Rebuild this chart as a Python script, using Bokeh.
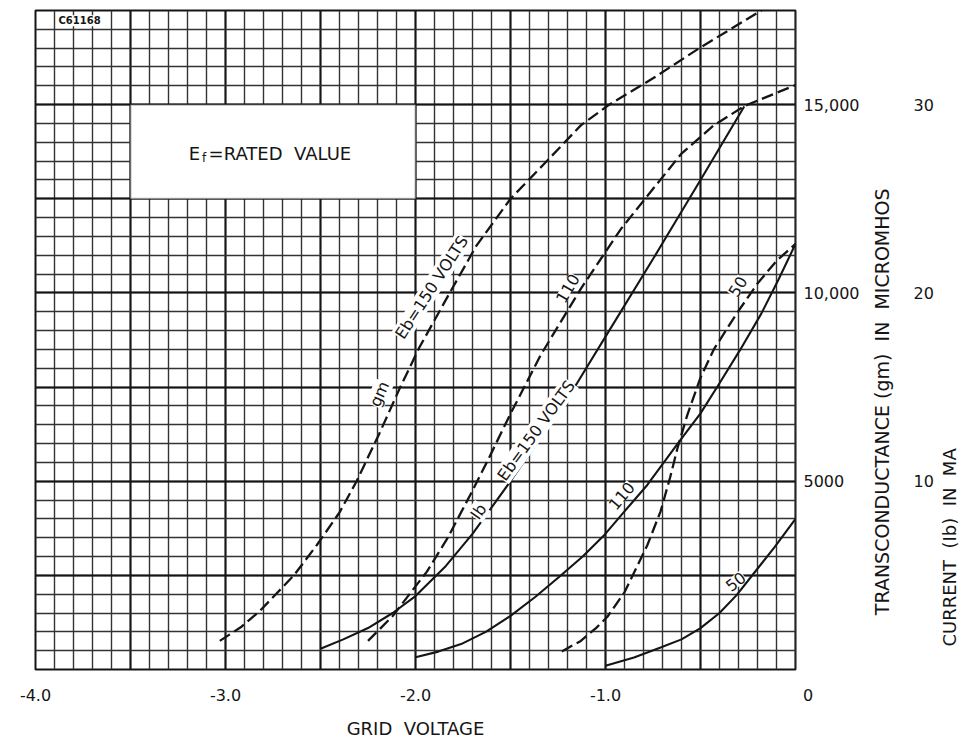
import numpy as np
from bokeh.plotting import figure
from bokeh.models import Range1d, LinearAxis, FixedTicker, BoxAnnotation, Label, NumeralTickFormatter
from bokeh.embed import file_html
from bokeh.resources import INLINE

# ---- data (grid voltage in V; gm in micromhos; Ib in mA) ----
gm150_v = [-3.03, -2.92, -2.82, -2.64, -2.52, -2.40, -2.31, -2.19, -2.08, -1.98, -1.82, -1.68, -1.50, -1.29, -1.13, -0.98, -0.75, -0.50, -0.18]
gm150 = [760, 1120, 1550, 2500, 3300, 4170, 5000, 6270, 7500, 8550, 10000, 11250, 12500, 13600, 14450, 15000, 15700, 16520, 17500]

gm110_v = [-2.25, -2.12, -1.94, -1.83, -1.70, -1.62, -1.50, -1.34, -1.13, -0.92, -0.76, -0.60, -0.43, -0.27, 0.0]
gm110 = [760, 1420, 2600, 3500, 4750, 5550, 6790, 8360, 10110, 11690, 12700, 13700, 14450, 14960, 15520]

gm50_v = [-1.23, -1.13, -1.05, -0.99, -0.90, -0.78, -0.71, -0.66, -0.62, -0.57, -0.50, -0.43, -0.31, -0.20, -0.10, 0.0]
gm50 = [480, 760, 1100, 1400, 2050, 3300, 4200, 5100, 5900, 6750, 7750, 8500, 9450, 10250, 10850, 11300]

ib150_v = [-2.50, -2.38, -2.25, -2.12, -2.00, -1.84, -1.70, -1.50, -1.35, -1.15, -0.95, -0.75, -0.50, -0.27]
ib150 = [1.1, 1.6, 2.2, 3.0, 3.9, 5.5, 7.2, 10.0, 12.2, 15.2, 18.5, 21.8, 26.0, 29.9]

ib110_v = [-2.00, -1.88, -1.76, -1.63, -1.50, -1.37, -1.24, -1.12, -1.01, -0.90, -0.78, -0.62, -0.50, -0.40, -0.29, -0.18, -0.09, 0.0]
ib110 = [0.65, 0.95, 1.35, 2.0, 2.85, 3.85, 4.95, 6.0, 7.1, 8.4, 9.8, 12.0, 13.6, 15.2, 17.0, 18.9, 20.7, 22.6]

ib50_v = [-1.00, -0.85, -0.71, -0.60, -0.50, -0.40, -0.31, -0.22, -0.11, 0.0]
ib50 = [0.2, 0.64, 1.17, 1.6, 2.2, 3.0, 3.95, 5.1, 6.5, 8.0]

x_tick_vals = [-4.0, -3.0, -2.0, -1.0, 0.0]
gm_tick_vals = [5000, 10000, 15000]
gm_tick_text = ["5000", "10,000", "15,000"]
ma_tick_vals = [10, 20, 30]

FONT = "DejaVu Sans"
INK = "#151515"
NB = "\u00a0"

p = figure(width=974, height=741, x_range=Range1d(-4.0, 0.0), y_range=Range1d(0, 17500),
           output_backend="svg", toolbar_location=None, y_axis_location="right",
           min_border_left=35, min_border_right=179, min_border_top=10, min_border_bottom=62)
p.background_fill_color = "white"
p.border_fill_color = "white"
p.outline_line_color = INK
p.outline_line_width = 2
p.extra_y_ranges = {"ma": Range1d(0, 35)}

# grid
p.xgrid.ticker = FixedTicker(ticks=list(np.arange(-4.0, 0.001, 0.5)), minor_ticks=list(np.arange(-4.0, 0.001, 0.1)))
p.ygrid.ticker = FixedTicker(ticks=list(np.arange(0, 17501, 2500)), minor_ticks=list(np.arange(0, 17501, 500)))
for g in (p.xgrid, p.ygrid):
    g.grid_line_color = INK
    g.grid_line_width = 2.0
    g.minor_grid_line_color = "#333333"
    g.minor_grid_line_width = 1.4

# x axis
xa = p.xaxis[0]
xa.ticker = FixedTicker(ticks=x_tick_vals)
xa.formatter = NumeralTickFormatter(format="0.0")
xa.major_label_overrides = {0: NB * 5 + "0"}
xa.axis_line_color = None
xa.major_tick_line_color = None
xa.minor_tick_line_color = None
xa.major_tick_out = 0
xa.minor_tick_out = 0
xa.major_label_standoff = 16
xa.major_label_text_font = FONT
xa.major_label_text_font_size = "16px"
xa.major_label_text_color = INK
xa.axis_label = "GRID" + NB + NB + "VOLTAGE"
xa.axis_label_text_font = FONT
xa.axis_label_text_font_size = "18px"
xa.axis_label_text_font_style = "normal"
xa.axis_label_text_color = INK
xa.axis_label_standoff = 10

# right axes
ya = p.yaxis[0]
ya.ticker = FixedTicker(ticks=gm_tick_vals)
ya.major_label_overrides = {v: t for v, t in zip(gm_tick_vals, gm_tick_text)}
ma_axis = LinearAxis(y_range_name="ma", ticker=FixedTicker(ticks=ma_tick_vals))
p.add_layout(ma_axis, "right")

has_align = "axis_label_align" in LinearAxis.properties()
gm_core = "TRANSCONDUCTANCE" + NB + "(gm)" + NB + NB + "IN" + NB + NB + "MICROMHOS"
ma_core = "CURRENT" + NB + NB + "(Ib)" + NB + NB + "IN" + NB + NB + "MA"
if has_align:
    gm_title = NB * 9 + gm_core
    ma_title = NB * 4 + ma_core
else:
    gm_title = gm_core
    ma_title = ma_core

for ax, st, title, tst, fs in ((ya, 8, gm_title, 20, "19px"), (ma_axis, 6, ma_title, 13, "18px")):
    ax.axis_line_color = None
    ax.major_tick_line_color = None
    ax.minor_tick_line_color = None
    ax.major_tick_out = 0
    ax.minor_tick_out = 0
    ax.major_label_standoff = st
    ax.major_label_text_font = FONT
    ax.major_label_text_font_size = "16px"
    ax.major_label_text_color = INK
    ax.axis_label = title
    ax.axis_label_standoff = tst
    ax.axis_label_text_font = FONT
    ax.axis_label_text_font_size = fs
    ax.axis_label_text_font_style = "normal"
    ax.axis_label_text_color = INK
    ax.axis_label_orientation = float(np.pi / 2)
    if has_align:
        ax.axis_label_align = "start"

# white note box
p.add_layout(BoxAnnotation(left=-3.5, right=-2.0, bottom=12500, top=15000,
                           fill_color="white", fill_alpha=1.0, line_color=INK, line_width=2))

# curves
dash = "12 5"
p.line(gm150_v, gm150, line_color=INK, line_width=2.3, line_dash=dash)
p.line(gm110_v, gm110, line_color=INK, line_width=2.3, line_dash=dash)
p.line(gm50_v, gm50, line_color=INK, line_width=2.3, line_dash=dash)
p.line(ib150_v, ib150, line_color=INK, line_width=2.1, y_range_name="ma")
p.line(ib110_v, ib110, line_color=INK, line_width=2.1, y_range_name="ma")
p.line(ib50_v, ib50, line_color=INK, line_width=2.1, y_range_name="ma")

def lab(x, y, text, angle=0, size="16px", rng="default", align="center", bg="white", **kw):
    l = Label(x=x, y=y, text=text, angle=angle, angle_units="deg", text_align=align,
              text_baseline="middle", text_font=FONT, text_font_size=size, text_color=INK,
              y_range_name=rng, background_fill_color=bg, **kw)
    p.add_layout(l)

# curve labels
lab(-2.19, 7315, "gm", 66)
lab(-1.915, 10147, "Eb=150" + NB + "VOLTS", 57)
lab(-1.20, 10121, "110", 60)
lab(-0.305, 10173, "50", 58)
lab(-1.668, 8.39, "Ib", 55, rng="ma")
lab(-1.365, 12.69, "Eb=150" + NB + "VOLTS", 54, rng="ma")
lab(-0.916, 9.23, "110", 50, rng="ma")
lab(-0.316, 4.67, "50", 38, rng="ma")

# note in box
lab(-3.163, 13713, "E", 0, size="18px", bg=None)
lab(-3.113, 13580, "f", 0, size="12px", bg=None)
lab(-3.089, 13713, "=RATED" + NB + NB + "VALUE", 0, size="18px", align="left", bg=None)

# drawing number
lab(-3.768, 17226, "C61168", 0, size="10px", text_font_style="bold")

open("out.html", "w").write(file_html(p, INLINE))
